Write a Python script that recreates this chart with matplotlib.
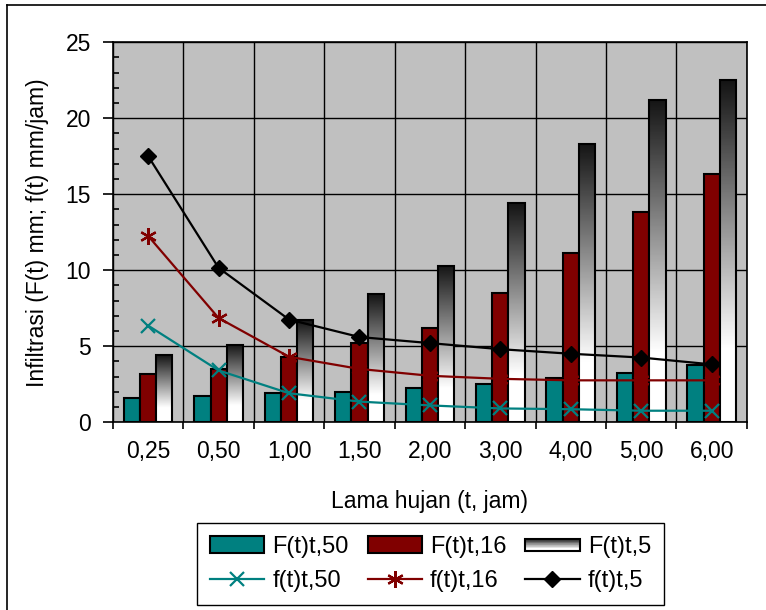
import numpy as np
import matplotlib.pyplot as plt
from matplotlib.lines import Line2D
from matplotlib.patches import Rectangle
from matplotlib.legend_handler import HandlerBase

plt.rcParams['font.family'] = ['Liberation Sans', 'DejaVu Sans']

# data
durations = ['0,25', '0,50', '1,00', '1,50', '2,00', '3,00', '4,00', '5,00', '6,00']
F50 = [1.6, 1.7, 1.9, 2.0, 2.25, 2.5, 2.9, 3.25, 3.75]
F16 = [3.15, 3.5, 4.3, 5.2, 6.2, 8.5, 11.1, 13.8, 16.35]
F5 = [4.4, 5.1, 6.7, 8.4, 10.3, 14.4, 18.3, 21.2, 22.5]
f50 = [6.35, 3.4, 1.9, 1.35, 1.1, 0.9, 0.85, 0.75, 0.75]
f16 = [12.25, 6.85, 4.3, 3.5, 3.05, 2.85, 2.75, 2.75, 2.75]
f5 = [17.5, 10.15, 6.75, 5.6, 5.2, 4.8, 4.5, 4.25, 3.8]

teal = '#008080'
maroon = '#800000'
fs = 16.5

# gradient: dark at top, white towards the bottom
grad_vals = np.clip(np.linspace(0.08, 1.25, 256), 0, 1)
grad_img = np.repeat(grad_vals[:, None], 2, axis=1)

fig = plt.figure(figsize=(7.66, 6.10), dpi=100)
ax = fig.add_axes([0.1475, 0.308, 0.8275, 0.6227])
ax.set_facecolor('#C0C0C0')

x = np.arange(len(durations))
w = 0.23
ax.bar(x - w, F50, w, color=teal, edgecolor='black', linewidth=1.5, zorder=3)
ax.bar(x, F16, w, color=maroon, edgecolor='black', linewidth=1.5, zorder=3)
bars5 = ax.bar(x + w, F5, w, facecolor='none', edgecolor='black', linewidth=1.5, zorder=4)
for b in bars5:
    x0, h = b.get_x(), b.get_height()
    ax.imshow(grad_img, cmap='gray', vmin=0, vmax=1, aspect='auto',
              extent=(x0, x0 + w, 0, h), origin='upper', zorder=3,
              interpolation='bilinear')

ax.plot(x, f50, color=teal, lw=1.6, marker='x', ms=10, mew=1.6, zorder=5)
ax.plot(x, f16, color=maroon, lw=1.6, marker=(6, 2, 0), ms=12, mew=1.6, zorder=5)
ax.plot(x, f5, color='black', lw=1.6, marker='D', ms=8, zorder=5)

ax.set_xlim(-0.5, len(durations) - 0.5)
ax.set_ylim(0, 25)
ax.set_yticks(range(0, 26, 5))
ax.set_yticks(range(0, 26, 1), minor=True)
ax.tick_params(axis='y', which='major', direction='out', length=7, width=1.2, labelsize=fs, pad=9)
ax.tick_params(axis='y', which='minor', direction='in', length=4.5, width=1.2)

ax.set_xticks(np.arange(-0.5, len(durations), 1))
ax.set_xticklabels([])
ax.set_xticks(x, minor=True)
ax.set_xticklabels(durations, minor=True)
ax.tick_params(axis='x', which='major', direction='out', length=5, width=1.2)
ax.tick_params(axis='x', which='minor', length=0, labelsize=fs, pad=13)

ax.grid(True, which='major', color='black', lw=1.0, zorder=1)
ax.set_axisbelow(True)
for s in ax.spines.values():
    s.set_linewidth(1.2)

ax.set_xlabel('Lama hujan (t, jam)', fontsize=fs, labelpad=19)
ax.set_ylabel('Infiltrasi (F(t) mm; f(t) mm/jam)', fontsize=fs, labelpad=12)


class GradientHandler(HandlerBase):
    def create_artists(self, legend, orig_handle, xdescent, ydescent,
                       width, height, fontsize, trans):
        arts = []
        n = 20
        hh = height * 0.75
        y0 = -ydescent + (height - hh) / 2
        for i in range(n):
            v = grad_vals[int((n - 1 - i) / n * 255)]
            arts.append(Rectangle((-xdescent, y0 + hh * i / n), width, hh / n,
                                  facecolor=str(v), edgecolor='none',
                                  transform=trans))
        arts.append(Rectangle((-xdescent, y0), width, hh, facecolor='none',
                              edgecolor='black', lw=1.5, transform=trans))
        return arts


class GradKey:
    pass


h_b50 = Rectangle((0, 0), 1, 1, facecolor=teal, edgecolor='black', lw=1.5)
h_b16 = Rectangle((0, 0), 1, 1, facecolor=maroon, edgecolor='black', lw=1.5)
h_b5 = GradKey()
h_l50 = Line2D([], [], color=teal, lw=1.6, marker='x', ms=10, mew=1.6)
h_l16 = Line2D([], [], color=maroon, lw=1.6, marker=(6, 2, 0), ms=12, mew=1.6)
h_l5 = Line2D([], [], color='black', lw=1.6, marker='D', ms=8)

leg = fig.legend([h_b50, h_l50, h_b16, h_l16, h_b5, h_l5],
                 ['F(t)t,50', 'f(t)t,50', 'F(t)t,16', 'f(t)t,16', 'F(t)t,5', 'f(t)t,5'],
                 ncol=3, loc='upper left', bbox_to_anchor=(197 / 766, 1 - 523 / 610),
                 fontsize=17, frameon=True, fancybox=False, edgecolor='black',
                 framealpha=1, handlelength=2.3, handletextpad=0.34,
                 columnspacing=0.8, borderpad=0.55, labelspacing=0.5,
                 borderaxespad=0, handler_map={GradKey: GradientHandler()})
leg.get_frame().set_linewidth(1.0)

# outer chart border (left and top edges visible)
fig.add_artist(Line2D([7 / 766, 7 / 766], [0, 1 - 5 / 610], color='black', lw=1.2))
fig.add_artist(Line2D([7 / 766, 1], [1 - 5 / 610, 1 - 5 / 610], color='black', lw=1.2))

fig.savefig('out.png', dpi=100)
